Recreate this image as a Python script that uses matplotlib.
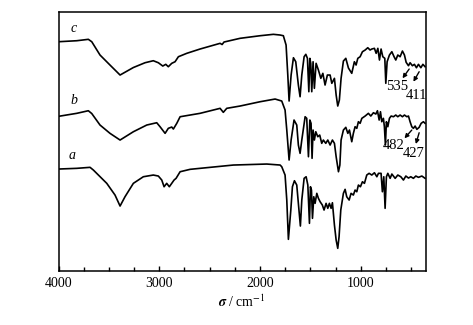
import matplotlib
matplotlib.use('Agg')
import matplotlib.pyplot as plt
from matplotlib.ticker import MultipleLocator

plt.rcParams['font.family'] = ['Liberation Serif', 'DejaVu Serif']
plt.rcParams['mathtext.fontset'] = 'stix'

# FTIR spectra, wavenumber (cm-1) and offset transmittance (arb. units)
wn_c = [4000, 3819, 3704, 3670, 3588, 3489, 3389, 3257, 3141, 3059, 3009, 2965, 2935,
        2910, 2876, 2843, 2810, 2727, 2595, 2396, 2376, 2357, 2198, 1999, 1867, 1800,
        1768, 1741, 1724, 1711, 1691, 1668, 1645, 1619, 1602, 1585, 1562, 1545, 1529,
        1515, 1505, 1496, 1486, 1473, 1460, 1443, 1420, 1396, 1376, 1354, 1331, 1304,
        1287, 1261, 1244, 1228, 1212, 1195, 1172, 1148, 1122, 1089, 1063, 1046, 1029,
        1006, 983, 956, 930, 907, 890, 864, 847, 830, 814, 798, 781, 761, 751, 738,
        715, 691, 669, 652, 632, 609, 586, 566, 549, 526, 510, 487, 467, 447, 427,
        403, 383, 361]
t_c = [229.3, 230.3, 231.7, 229.3, 216, 206, 196, 203.5, 208.3, 210.3, 208.3, 205, 206.7,
       204.3, 207.7, 209.3, 214.3, 217.7, 222, 227.7, 226.5, 229, 232.7, 235.3, 236.7, 236,
       235.3, 226, 196, 170, 196, 213.3, 209.3, 186, 174.3, 196, 214.3, 216.7, 212.7,
       179.3, 212.7, 207.7, 179.3, 209.3, 182.7, 207.7, 201, 192.7, 197.7, 186, 196, 196,
       187.7, 192.7, 176, 165, 171, 192.7, 210, 212.7, 203, 197.7, 209.3, 206, 212.7,
       214.3, 219.3, 221, 223.3, 221, 222, 222.7, 217.7, 222.7, 211, 222, 214.3, 212.7, 187.7, 209.3,
       216, 219.3, 214.3, 211, 216, 214.3, 220, 216, 208.7, 205.3, 208.3, 205.3, 206.7, 203.3, 206.7,
       203.3, 206.7, 204.3]

wn_b = [4000, 3819, 3704, 3670, 3588, 3489, 3389, 3257, 3124, 3025, 2992, 2942, 2910,
        2876, 2860, 2826, 2793, 2694, 2595, 2396, 2364, 2330, 2198, 1999, 1850, 1784,
        1751, 1734, 1711, 1691, 1662, 1635, 1619, 1602, 1585, 1552, 1536, 1519, 1505,
        1493, 1483, 1473, 1460, 1446, 1426, 1407, 1387, 1371, 1347, 1327, 1304, 1281,
        1261, 1244, 1221, 1207, 1195, 1172, 1148, 1128, 1112, 1089, 1073, 1056, 1039,
        1023, 1006, 989, 956, 924, 900, 874, 850, 834, 817, 804, 791, 775, 765, 755,
        745, 731, 715, 698, 675, 652, 632, 609, 586, 566, 542, 526, 510, 493, 477,
        460, 443, 420, 400, 378, 361]
t_b = [154.7, 157.7, 160.3, 157.5, 146, 137.7, 131, 139.3, 146, 148.3, 144.3, 137.7, 142.7,
       144, 142, 147.7, 154.3, 156, 157.7, 162.7, 158.7, 162.7, 165, 169.3, 172, 170,
       161, 141, 111, 131, 151, 146, 126, 117.7, 131, 154.3, 152.7, 114.3, 151,
       147.7, 112.7, 141, 131, 139.3, 134.3, 136, 127.7, 131, 127.7, 131, 126, 131,
       127.7, 114.3, 99.3, 106, 131, 141, 143.7, 137.7, 141, 129.3, 137.7, 144.3, 142.7,
       149.3, 147.7, 152.7, 155, 157.7, 155, 158.3, 157, 160.3, 151, 159.3, 149.3, 152.7, 144.3, 126,
       149.3, 144.3, 152.7, 155, 154.3, 156, 154.3, 156, 154.3, 156, 154.3, 155, 149.3, 144.3, 142.7,
       145, 141.7, 143.7, 147.7, 149.3, 147.7]

wn_a = [4000, 3819, 3687, 3654, 3521, 3439, 3389, 3340, 3257, 3158, 3059, 3009, 2975,
        2952, 2926, 2900, 2876, 2853, 2833, 2793, 2694, 2595, 2264, 1933, 1800, 1784,
        1751, 1734, 1718, 1694, 1678, 1658, 1635, 1619, 1599, 1585, 1562, 1542, 1525,
        1509, 1499, 1489, 1479, 1466, 1453, 1436, 1420, 1403, 1381, 1364, 1344, 1327,
        1311, 1294, 1281, 1261, 1244, 1228, 1215, 1198, 1172, 1155, 1139, 1115, 1096,
        1073, 1056, 1039, 1023, 1003, 983, 963, 940, 917, 890, 864, 840, 824, 798, 785,
        771, 758, 745, 731, 708, 691, 658, 632, 602, 576, 552, 526, 503, 477, 453,
        427, 393, 361]
t_a = [102, 102.7, 103.7, 101, 87.7, 76, 65, 74.3, 87.7, 94.3, 96, 95, 91,
       84.3, 87.7, 84.3, 87.7, 91, 92.7, 99.3, 101.7, 102.7, 106, 107, 106, 104.3,
       96, 71, 31.7, 61, 84.3, 90.3, 86, 67.7, 45, 71, 92.7, 94.3, 86,
       47.7, 84.3, 81, 52.7, 74.3, 67.7, 77.7, 72.7, 69.3, 66, 61, 67.7, 62.7,
       67.7, 62.7, 68.3, 46, 31, 22.7, 34.3, 61, 77.7, 81.7, 74.3, 71, 77.7,
       76, 81, 79.3, 86, 84.3, 89.3, 87.7, 96, 97.7, 96, 98.3, 94.3, 97.7, 97.7, 79.3,
       94.3, 62.7, 94.3, 97.7, 92.7, 97, 92.7, 96, 94.3, 91, 95, 93, 94.3, 92.7, 95,
       93.7, 95, 92.7]

curve_names = ['a', 'b', 'c']
curve_label_pos = [(3869, 116), (3846, 171), (3846, 242.7)]

peak_labels = ['535', '411', '482', '427']
peak_label_pos = [(642, 184.3), (450, 176), (675, 126), (470, 117.7)]
arrow_tail = [(519, 202), (420, 199.3), (493, 141), (420, 138.3)]
arrow_head = [(585, 192.7), (477, 189.3), (566, 132.7), (453, 127)]

fig = plt.figure(figsize=(4.73, 3.25), dpi=100)
ax = fig.add_axes([0.1237, 0.166, 0.7763, 0.797])

for wn, t in [(wn_a, t_a), (wn_b, t_b), (wn_c, t_c)]:
    ax.plot(wn, t, color='black', lw=1.2)

for name, (x, y) in zip(curve_names, curve_label_pos):
    ax.text(x, y, name, fontsize=10, style='italic', ha='center', va='center')

for lab, (x, y) in zip(peak_labels, peak_label_pos):
    ax.text(x, y, lab, fontsize=10.5, ha='center', va='center')

for tail, head in zip(arrow_tail, arrow_head):
    ax.annotate('', xy=head, xytext=tail,
                arrowprops=dict(arrowstyle='-|>', color='black', lw=1.0,
                                mutation_scale=6, shrinkA=0, shrinkB=0))

ax.set_xlim(4000, 355)
ax.set_ylim(0, 259)
ax.xaxis.set_major_locator(MultipleLocator(1000))
ax.xaxis.set_minor_locator(MultipleLocator(250))
ax.set_yticks([])
ax.tick_params(axis='x', which='major', direction='in', length=3.5, width=1,
               labelsize=10, pad=4)
ax.tick_params(axis='x', which='minor', direction='in', length=3, width=1)
for s in ax.spines.values():
    s.set_linewidth(1.1)

ax.set_xlabel(r'$\boldsymbol{\sigma}$ / cm$^{-1}$', fontsize=10, labelpad=3)

fig.savefig('out.png', dpi=100)
